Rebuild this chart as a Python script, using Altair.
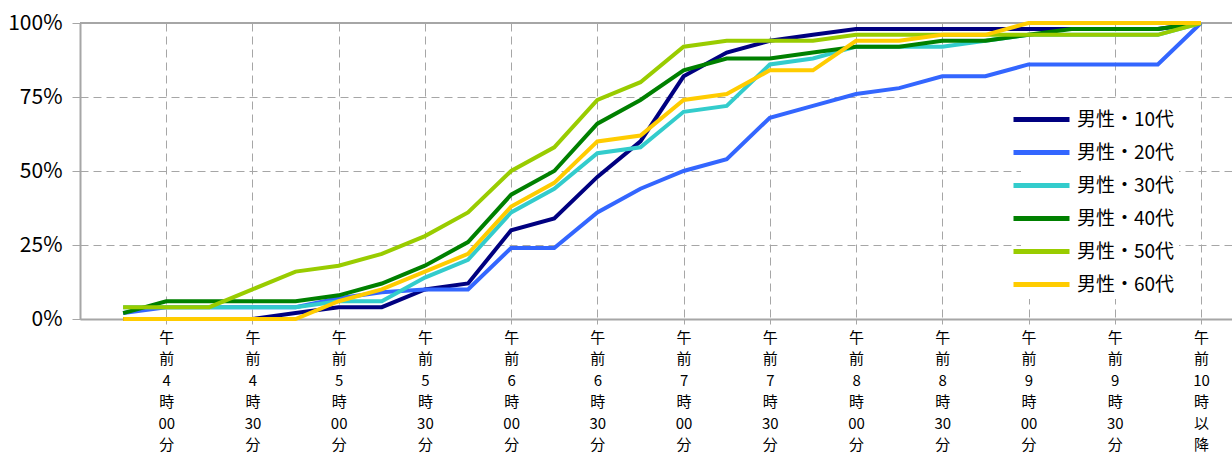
import json
import altair as alt
import pandas as pd

# Time slots every 15 minutes; slot 0 is the one before 4:00, slot 25 is "10:00 and later"
slots = list(range(26))

# Axis labels for the odd slots (every 30 minutes), one line per piece
tick_labels = [
    "午|前|4|時|00|分", "午|前|4|時|30|分",
    "午|前|5|時|00|分", "午|前|5|時|30|分",
    "午|前|6|時|00|分", "午|前|6|時|30|分",
    "午|前|7|時|00|分", "午|前|7|時|30|分",
    "午|前|8|時|00|分", "午|前|8|時|30|分",
    "午|前|9|時|00|分", "午|前|9|時|30|分",
    "午|前|10|時|以|降",
]
tick_slots = [2 * k + 1 for k in range(len(tick_labels))]

series_names = ["男性・10代", "男性・20代", "男性・30代", "男性・40代", "男性・50代", "男性・60代"]
series_colors = ["#000080", "#3366FF", "#33CCCC", "#008000", "#99CC00", "#FFCC00"]

# Cumulative share (%) per slot
male_10s = [0, 0, 0, 0, 2, 4, 4, 10, 12, 30, 34, 48, 60, 82, 90, 94, 96, 98, 98, 98, 98, 98, 98, 98, 98, 100]
male_20s = [2, 4, 4, 4, 4, 7, 9, 10, 10, 24, 24, 36, 44, 50, 54, 68, 72, 76, 78, 82, 82, 86, 86, 86, 86, 100]
male_30s = [4, 4, 4, 4, 4, 6, 6, 14, 20, 36, 44, 56, 58, 70, 72, 86, 88, 92, 92, 92, 94, 96, 96, 96, 96, 100]
male_40s = [2, 6, 6, 6, 6, 8, 12, 18, 26, 42, 50, 66, 74, 84, 88, 88, 90, 92, 92, 94, 94, 96, 98, 98, 98, 100]
male_50s = [4, 4, 4, 10, 16, 18, 22, 28, 36, 50, 58, 74, 80, 92, 94, 94, 94, 96, 96, 96, 96, 96, 96, 96, 96, 100]
male_60s = [0, 0, 0, 0, 0, 6, 10, 16, 22, 38, 46, 60, 62, 74, 76, 84, 84, 94, 94, 96, 96, 100, 100, 100, 100, 100]

all_series = [male_10s, male_20s, male_30s, male_40s, male_50s, male_60s]

rows = []
for name, values in zip(series_names, all_series):
    for s, v in zip(slots, values):
        rows.append({"slot": s, "series": name, "share": v})
df = pd.DataFrame(rows)

FONT = "Noto Sans CJK JP"
GRID = "#A6A6A6"

label_expr = "split(" + json.dumps(tick_labels, ensure_ascii=False) + "[(datum.value - 1) / 2], '|')"

x_enc = alt.X(
    "slot:Q",
    scale=alt.Scale(domain=[-1, 25.72], nice=False, zero=False),
    axis=alt.Axis(
        values=tick_slots,
        labelExpr=label_expr,
        title=None,
        grid=True,
        gridDash=[8, 5],
        gridColor=GRID,
        gridWidth=1,
        domainColor=GRID,
        domainWidth=2,
        tickColor=GRID,
        tickSize=5,
        labelAngle=0,
        labelBaseline="top",
        labelPadding=6,
        labelFontSize=15,
        labelLineHeight=21.5,
        labelColor="#000000",
        labelFont=FONT,
    ),
)

y_enc = alt.Y(
    "share:Q",
    scale=alt.Scale(domain=[0, 100], nice=False),
    axis=alt.Axis(
        values=[0, 25, 50, 75, 100],
        labelExpr="datum.value + '%'",
        title=None,
        grid=True,
        gridDash=[8, 5],
        gridColor=GRID,
        gridWidth=1,
        domainColor=GRID,
        domainWidth=2,
        tickColor=GRID,
        tickSize=8,
        labelPadding=10,
        labelFontSize=21,
        labelColor="#000000",
        labelFont=FONT,
    ),
)

# Legend key: a wide horizontal stroke (path spans twice the nominal symbol width)
lines = alt.Chart(df).mark_line(strokeWidth=4, strokeJoin="miter").encode(
    x=x_enc,
    y=y_enc,
    color=alt.Color(
        "series:N",
        scale=alt.Scale(domain=series_names, range=series_colors),
        legend=alt.Legend(
            title=None,
            orient="none",
            legendX=941,
            legendY=76,
            symbolType="M-2,0H2",
            symbolSize=784,
            symbolStrokeWidth=5,
            labelFontSize=19,
            labelFont=FONT,
            labelColor="#000000",
            labelOffset=19,
            rowPadding=6,
            padding=4,
            fillColor="#FFFFFF",
        ),
    ),
)

top_border = alt.Chart(df).mark_rule(color=GRID, strokeWidth=2).encode(y=alt.datum(100))

chart = (
    alt.layer(top_border, lines)
    .properties(
        width=1152,
        height=296,
        background="#FFFFFF",
        autosize=alt.AutoSizeParams(type="none"),
        padding={"left": 80, "top": 23, "right": 0, "bottom": 136},
    )
    .configure_view(stroke=None)
    .configure(font=FONT)
)

chart.save("out.html", embed_options={"renderer": "svg", "actions": False})
